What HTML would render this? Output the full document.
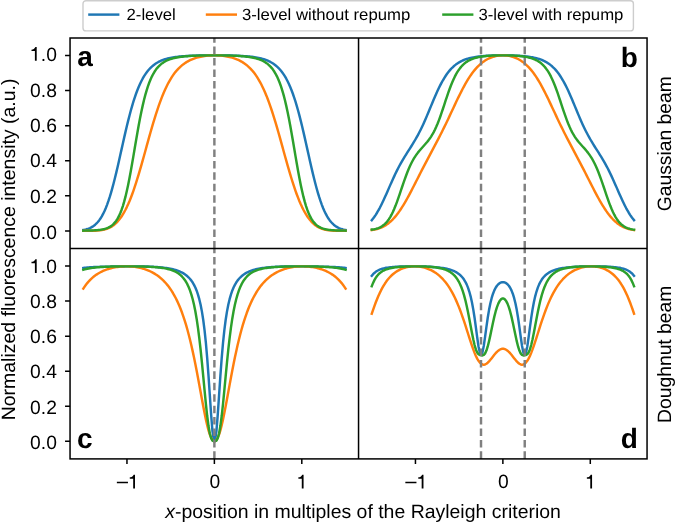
<!DOCTYPE html>
<html><head><meta charset="utf-8"><title>Figure</title>
<style>html,body{margin:0;padding:0;background:#fff;}svg{will-change:transform;text-rendering:geometricPrecision;}body{width:675px;height:522px;position:relative;overflow:hidden;font-family:"Liberation Sans",sans-serif;}</style>
</head><body>
<svg width="675" height="522" viewBox="0 0 675 522" style="position:absolute;left:0;top:0;font-family:'Liberation Sans',sans-serif">
<rect x="0" y="0" width="675" height="522" fill="#fff"/>
<path d="M83.32,229.95 L84.64,229.71 L85.96,229.41 L87.27,229.04 L88.59,228.59 L89.91,228.06 L91.23,227.42 L92.55,226.65 L93.86,225.75 L95.18,224.70 L96.50,223.47 L97.82,222.04 L99.13,220.40 L100.45,218.52 L101.77,216.38 L103.09,213.96 L104.41,211.25 L105.72,208.22 L107.04,204.87 L108.36,201.19 L109.68,197.18 L111.00,192.85 L112.31,188.20 L113.63,183.26 L114.95,178.05 L116.27,172.60 L117.59,166.97 L118.90,161.19 L120.22,155.31 L121.54,149.39 L122.86,143.47 L124.17,137.62 L125.49,131.87 L126.81,126.27 L128.13,120.87 L129.45,115.68 L130.76,110.75 L132.08,106.08 L133.40,101.68 L134.72,97.58 L136.04,93.75 L137.35,90.22 L138.67,86.95 L139.99,83.95 L141.31,81.21 L142.63,78.70 L143.94,76.42 L145.26,74.34 L146.58,72.46 L147.90,70.76 L149.21,69.23 L150.53,67.84 L151.85,66.59 L153.17,65.46 L154.49,64.45 L155.80,63.53 L157.12,62.71 L158.44,61.97 L159.76,61.31 L161.08,60.71 L162.39,60.17 L163.71,59.69 L165.03,59.25 L166.35,58.86 L167.66,58.51 L168.98,58.19 L170.30,57.91 L171.62,57.65 L172.94,57.41 L174.25,57.20 L175.57,57.01 L176.89,56.84 L178.21,56.69 L179.53,56.55 L180.84,56.42 L182.16,56.30 L183.48,56.20 L184.80,56.10 L186.12,56.02 L187.43,55.94 L188.75,55.87 L190.07,55.81 L191.39,55.75 L192.70,55.70 L194.02,55.65 L195.34,55.61 L196.66,55.57 L197.98,55.53 L199.29,55.50 L200.61,55.48 L201.93,55.45 L203.25,55.43 L204.57,55.41 L205.88,55.40 L207.20,55.38 L208.52,55.37 L209.84,55.36 L211.16,55.36 L212.47,55.35 L213.79,55.35 L215.11,55.35 L216.43,55.35 L217.74,55.36 L219.06,55.36 L220.38,55.37 L221.70,55.38 L223.02,55.40 L224.33,55.41 L225.65,55.43 L226.97,55.45 L228.29,55.48 L229.61,55.50 L230.92,55.53 L232.24,55.57 L233.56,55.61 L234.88,55.65 L236.20,55.70 L237.51,55.75 L238.83,55.81 L240.15,55.87 L241.47,55.94 L242.78,56.02 L244.10,56.10 L245.42,56.20 L246.74,56.30 L248.06,56.42 L249.37,56.55 L250.69,56.69 L252.01,56.84 L253.33,57.01 L254.65,57.20 L255.96,57.41 L257.28,57.65 L258.60,57.91 L259.92,58.19 L261.24,58.51 L262.55,58.86 L263.87,59.25 L265.19,59.69 L266.51,60.17 L267.82,60.71 L269.14,61.31 L270.46,61.97 L271.78,62.71 L273.10,63.53 L274.41,64.45 L275.73,65.46 L277.05,66.59 L278.37,67.84 L279.69,69.23 L281.00,70.76 L282.32,72.46 L283.64,74.34 L284.96,76.42 L286.27,78.70 L287.59,81.21 L288.91,83.95 L290.23,86.95 L291.55,90.22 L292.86,93.75 L294.18,97.58 L295.50,101.68 L296.82,106.08 L298.14,110.75 L299.45,115.68 L300.77,120.87 L302.09,126.27 L303.41,131.87 L304.73,137.62 L306.04,143.47 L307.36,149.39 L308.68,155.31 L310.00,161.19 L311.31,166.97 L312.63,172.60 L313.95,178.05 L315.27,183.26 L316.59,188.20 L317.90,192.85 L319.22,197.18 L320.54,201.19 L321.86,204.87 L323.18,208.22 L324.49,211.25 L325.81,213.96 L327.13,216.38 L328.45,218.52 L329.77,220.40 L331.08,222.04 L332.40,223.47 L333.72,224.70 L335.04,225.75 L336.35,226.65 L337.67,227.42 L338.99,228.06 L340.31,228.59 L341.63,229.04 L342.94,229.41 L344.26,229.71 L345.58,229.95" stroke="#1f77b4" stroke-width="2.45" fill="none" stroke-linecap="square" stroke-linejoin="round"/>
<path d="M83.32,230.85 L84.64,230.84 L85.96,230.84 L87.27,230.83 L88.59,230.82 L89.91,230.81 L91.23,230.79 L92.55,230.76 L93.86,230.72 L95.18,230.67 L96.50,230.60 L97.82,230.51 L99.13,230.39 L100.45,230.24 L101.77,230.05 L103.09,229.81 L104.41,229.52 L105.72,229.16 L107.04,228.74 L108.36,228.23 L109.68,227.63 L111.00,226.93 L112.31,226.12 L113.63,225.19 L114.95,224.13 L116.27,222.93 L117.59,221.57 L118.90,220.05 L120.22,218.36 L121.54,216.49 L122.86,214.44 L124.17,212.19 L125.49,209.75 L126.81,207.10 L128.13,204.25 L129.45,201.19 L130.76,197.92 L132.08,194.46 L133.40,190.80 L134.72,186.95 L136.04,182.93 L137.35,178.74 L138.67,174.40 L139.99,169.94 L141.31,165.37 L142.63,160.70 L143.94,155.98 L145.26,151.21 L146.58,146.43 L147.90,141.66 L149.21,136.93 L150.53,132.26 L151.85,127.66 L153.17,123.18 L154.49,118.81 L155.80,114.58 L157.12,110.51 L158.44,106.60 L159.76,102.86 L161.08,99.31 L162.39,95.93 L163.71,92.74 L165.03,89.74 L166.35,86.92 L167.66,84.28 L168.98,81.81 L170.30,79.52 L171.62,77.38 L172.94,75.40 L174.25,73.56 L175.57,71.87 L176.89,70.30 L178.21,68.86 L179.53,67.53 L180.84,66.31 L182.16,65.18 L183.48,64.15 L184.80,63.21 L186.12,62.35 L187.43,61.56 L188.75,60.84 L190.07,60.18 L191.39,59.58 L192.70,59.03 L194.02,58.54 L195.34,58.09 L196.66,57.69 L197.98,57.32 L199.29,56.99 L200.61,56.70 L201.93,56.44 L203.25,56.22 L204.57,56.02 L205.88,55.85 L207.20,55.70 L208.52,55.59 L209.84,55.49 L211.16,55.42 L212.47,55.38 L213.79,55.35 L215.11,55.35 L216.43,55.38 L217.74,55.42 L219.06,55.49 L220.38,55.59 L221.70,55.70 L223.02,55.85 L224.33,56.02 L225.65,56.22 L226.97,56.44 L228.29,56.70 L229.61,56.99 L230.92,57.32 L232.24,57.69 L233.56,58.09 L234.88,58.54 L236.20,59.03 L237.51,59.58 L238.83,60.18 L240.15,60.84 L241.47,61.56 L242.78,62.35 L244.10,63.21 L245.42,64.15 L246.74,65.18 L248.06,66.31 L249.37,67.53 L250.69,68.86 L252.01,70.30 L253.33,71.87 L254.65,73.56 L255.96,75.40 L257.28,77.38 L258.60,79.52 L259.92,81.81 L261.24,84.28 L262.55,86.92 L263.87,89.74 L265.19,92.74 L266.51,95.93 L267.82,99.31 L269.14,102.86 L270.46,106.60 L271.78,110.51 L273.10,114.58 L274.41,118.81 L275.73,123.18 L277.05,127.66 L278.37,132.26 L279.69,136.93 L281.00,141.66 L282.32,146.43 L283.64,151.21 L284.96,155.98 L286.27,160.70 L287.59,165.37 L288.91,169.94 L290.23,174.40 L291.55,178.74 L292.86,182.93 L294.18,186.95 L295.50,190.80 L296.82,194.46 L298.14,197.92 L299.45,201.19 L300.77,204.25 L302.09,207.10 L303.41,209.75 L304.73,212.19 L306.04,214.44 L307.36,216.49 L308.68,218.36 L310.00,220.05 L311.31,221.57 L312.63,222.93 L313.95,224.13 L315.27,225.19 L316.59,226.12 L317.90,226.93 L319.22,227.63 L320.54,228.23 L321.86,228.74 L323.18,229.16 L324.49,229.52 L325.81,229.81 L327.13,230.05 L328.45,230.24 L329.77,230.39 L331.08,230.51 L332.40,230.60 L333.72,230.67 L335.04,230.72 L336.35,230.76 L337.67,230.79 L338.99,230.81 L340.31,230.82 L341.63,230.83 L342.94,230.84 L344.26,230.84 L345.58,230.85" stroke="#ff7f0e" stroke-width="2.45" fill="none" stroke-linecap="square" stroke-linejoin="round"/>
<path d="M83.32,230.67 L84.64,230.65 L85.96,230.63 L87.27,230.60 L88.59,230.57 L89.91,230.54 L91.23,230.49 L92.55,230.44 L93.86,230.38 L95.18,230.30 L96.50,230.20 L97.82,230.09 L99.13,229.95 L100.45,229.78 L101.77,229.57 L103.09,229.31 L104.41,229.00 L105.72,228.63 L107.04,228.17 L108.36,227.61 L109.68,226.93 L111.00,226.10 L112.31,225.10 L113.63,223.90 L114.95,222.44 L116.27,220.71 L117.59,218.64 L118.90,216.19 L120.22,213.32 L121.54,209.96 L122.86,206.09 L124.17,201.66 L125.49,196.66 L126.81,191.09 L128.13,184.95 L129.45,178.31 L130.76,171.22 L132.08,163.78 L133.40,156.11 L134.72,148.32 L136.04,140.56 L137.35,132.95 L138.67,125.58 L139.99,118.58 L141.31,111.99 L142.63,105.87 L143.94,100.26 L145.26,95.15 L146.58,90.54 L147.90,86.40 L149.21,82.72 L150.53,79.46 L151.85,76.58 L153.17,74.04 L154.49,71.80 L155.80,69.84 L157.12,68.12 L158.44,66.62 L159.76,65.30 L161.08,64.14 L162.39,63.13 L163.71,62.23 L165.03,61.45 L166.35,60.76 L167.66,60.15 L168.98,59.62 L170.30,59.14 L171.62,58.73 L172.94,58.35 L174.25,58.02 L175.57,57.73 L176.89,57.47 L178.21,57.23 L179.53,57.03 L180.84,56.84 L182.16,56.67 L183.48,56.52 L184.80,56.39 L186.12,56.26 L187.43,56.16 L188.75,56.06 L190.07,55.97 L191.39,55.89 L192.70,55.82 L194.02,55.75 L195.34,55.70 L196.66,55.64 L197.98,55.60 L199.29,55.56 L200.61,55.52 L201.93,55.49 L203.25,55.46 L204.57,55.43 L205.88,55.41 L207.20,55.39 L208.52,55.38 L209.84,55.37 L211.16,55.36 L212.47,55.35 L213.79,55.35 L215.11,55.35 L216.43,55.35 L217.74,55.36 L219.06,55.37 L220.38,55.38 L221.70,55.39 L223.02,55.41 L224.33,55.43 L225.65,55.46 L226.97,55.49 L228.29,55.52 L229.61,55.56 L230.92,55.60 L232.24,55.64 L233.56,55.70 L234.88,55.75 L236.20,55.82 L237.51,55.89 L238.83,55.97 L240.15,56.06 L241.47,56.16 L242.78,56.26 L244.10,56.39 L245.42,56.52 L246.74,56.67 L248.06,56.84 L249.37,57.03 L250.69,57.23 L252.01,57.47 L253.33,57.73 L254.65,58.02 L255.96,58.35 L257.28,58.73 L258.60,59.14 L259.92,59.62 L261.24,60.15 L262.55,60.76 L263.87,61.45 L265.19,62.23 L266.51,63.13 L267.82,64.14 L269.14,65.30 L270.46,66.62 L271.78,68.12 L273.10,69.84 L274.41,71.80 L275.73,74.04 L277.05,76.58 L278.37,79.46 L279.69,82.72 L281.00,86.40 L282.32,90.54 L283.64,95.15 L284.96,100.26 L286.27,105.87 L287.59,111.99 L288.91,118.58 L290.23,125.58 L291.55,132.95 L292.86,140.56 L294.18,148.32 L295.50,156.11 L296.82,163.78 L298.14,171.22 L299.45,178.31 L300.77,184.95 L302.09,191.09 L303.41,196.66 L304.73,201.66 L306.04,206.09 L307.36,209.96 L308.68,213.32 L310.00,216.19 L311.31,218.64 L312.63,220.71 L313.95,222.44 L315.27,223.90 L316.59,225.10 L317.90,226.10 L319.22,226.93 L320.54,227.61 L321.86,228.17 L323.18,228.63 L324.49,229.00 L325.81,229.31 L327.13,229.57 L328.45,229.78 L329.77,229.95 L331.08,230.09 L332.40,230.20 L333.72,230.30 L335.04,230.38 L336.35,230.44 L337.67,230.49 L338.99,230.54 L340.31,230.57 L341.63,230.60 L342.94,230.63 L344.26,230.65 L345.58,230.67" stroke="#2ca02c" stroke-width="2.45" fill="none" stroke-linecap="square" stroke-linejoin="round"/>
<path d="M371.77,220.16 L373.09,218.55 L374.41,216.78 L375.72,214.83 L377.04,212.73 L378.36,210.46 L379.68,208.04 L381.00,205.47 L382.31,202.78 L383.63,199.98 L384.95,197.09 L386.27,194.14 L387.58,191.14 L388.90,188.13 L390.22,185.13 L391.54,182.15 L392.86,179.23 L394.17,176.37 L395.49,173.59 L396.81,170.90 L398.13,168.30 L399.45,165.80 L400.76,163.39 L402.08,161.07 L403.40,158.83 L404.72,156.66 L406.04,154.54 L407.35,152.45 L408.67,150.39 L409.99,148.33 L411.31,146.25 L412.62,144.14 L413.94,141.98 L415.26,139.75 L416.58,137.45 L417.90,135.04 L419.21,132.54 L420.53,129.93 L421.85,127.22 L423.17,124.40 L424.49,121.48 L425.80,118.47 L427.12,115.38 L428.44,112.25 L429.76,109.07 L431.08,105.89 L432.39,102.71 L433.71,99.57 L435.03,96.49 L436.35,93.49 L437.66,90.59 L438.98,87.81 L440.30,85.15 L441.62,82.63 L442.94,80.26 L444.25,78.04 L445.57,75.97 L446.89,74.04 L448.21,72.27 L449.53,70.64 L450.84,69.14 L452.16,67.77 L453.48,66.52 L454.80,65.38 L456.11,64.35 L457.43,63.42 L458.75,62.57 L460.07,61.81 L461.39,61.12 L462.70,60.50 L464.02,59.95 L465.34,59.44 L466.66,58.99 L467.98,58.58 L469.29,58.22 L470.61,57.89 L471.93,57.59 L473.25,57.33 L474.57,57.09 L475.88,56.88 L477.20,56.69 L478.52,56.52 L479.84,56.36 L481.15,56.22 L482.47,56.10 L483.79,55.99 L485.11,55.89 L486.43,55.80 L487.74,55.73 L489.06,55.66 L490.38,55.60 L491.70,55.55 L493.02,55.50 L494.33,55.46 L495.65,55.43 L496.97,55.40 L498.29,55.38 L499.61,55.37 L500.92,55.36 L502.24,55.35 L503.56,55.35 L504.88,55.36 L506.19,55.37 L507.51,55.38 L508.83,55.40 L510.15,55.43 L511.47,55.46 L512.78,55.50 L514.10,55.55 L515.42,55.60 L516.74,55.66 L518.06,55.73 L519.37,55.80 L520.69,55.89 L522.01,55.99 L523.33,56.10 L524.65,56.22 L525.96,56.36 L527.28,56.52 L528.60,56.69 L529.92,56.88 L531.23,57.09 L532.55,57.33 L533.87,57.59 L535.19,57.89 L536.51,58.22 L537.82,58.58 L539.14,58.99 L540.46,59.44 L541.78,59.95 L543.10,60.50 L544.41,61.12 L545.73,61.81 L547.05,62.57 L548.37,63.42 L549.69,64.35 L551.00,65.38 L552.32,66.52 L553.64,67.77 L554.96,69.14 L556.27,70.64 L557.59,72.27 L558.91,74.04 L560.23,75.97 L561.55,78.04 L562.86,80.26 L564.18,82.63 L565.50,85.15 L566.82,87.81 L568.14,90.59 L569.45,93.49 L570.77,96.49 L572.09,99.57 L573.41,102.71 L574.72,105.89 L576.04,109.07 L577.36,112.25 L578.68,115.38 L580.00,118.47 L581.31,121.48 L582.63,124.40 L583.95,127.22 L585.27,129.93 L586.59,132.54 L587.90,135.04 L589.22,137.45 L590.54,139.75 L591.86,141.98 L593.18,144.14 L594.49,146.25 L595.81,148.33 L597.13,150.39 L598.45,152.45 L599.76,154.54 L601.08,156.66 L602.40,158.83 L603.72,161.07 L605.04,163.39 L606.35,165.80 L607.67,168.30 L608.99,170.90 L610.31,173.59 L611.63,176.37 L612.94,179.23 L614.26,182.15 L615.58,185.13 L616.90,188.13 L618.22,191.14 L619.53,194.14 L620.85,197.09 L622.17,199.98 L623.49,202.78 L624.80,205.47 L626.12,208.04 L627.44,210.46 L628.76,212.73 L630.08,214.83 L631.39,216.78 L632.71,218.55 L634.03,220.16" stroke="#1f77b4" stroke-width="2.45" fill="none" stroke-linecap="square" stroke-linejoin="round"/>
<path d="M371.77,230.07 L373.09,229.87 L374.41,229.62 L375.72,229.34 L377.04,229.00 L378.36,228.62 L379.68,228.17 L381.00,227.65 L382.31,227.07 L383.63,226.41 L384.95,225.67 L386.27,224.84 L387.58,223.93 L388.90,222.92 L390.22,221.81 L391.54,220.60 L392.86,219.29 L394.17,217.88 L395.49,216.36 L396.81,214.73 L398.13,213.00 L399.45,211.16 L400.76,209.23 L402.08,207.20 L403.40,205.08 L404.72,202.87 L406.04,200.59 L407.35,198.23 L408.67,195.82 L409.99,193.35 L411.31,190.83 L412.62,188.29 L413.94,185.71 L415.26,183.12 L416.58,180.53 L417.90,177.93 L419.21,175.33 L420.53,172.75 L421.85,170.18 L423.17,167.63 L424.49,165.09 L425.80,162.57 L427.12,160.07 L428.44,157.58 L429.76,155.10 L431.08,152.63 L432.39,150.15 L433.71,147.68 L435.03,145.19 L436.35,142.69 L437.66,140.17 L438.98,137.62 L440.30,135.05 L441.62,132.44 L442.94,129.80 L444.25,127.13 L445.57,124.42 L446.89,121.68 L448.21,118.92 L449.53,116.13 L450.84,113.32 L452.16,110.51 L453.48,107.69 L454.80,104.89 L456.11,102.10 L457.43,99.34 L458.75,96.62 L460.07,93.95 L461.39,91.34 L462.70,88.80 L464.02,86.34 L465.34,83.96 L466.66,81.67 L467.98,79.49 L469.29,77.41 L470.61,75.43 L471.93,73.56 L473.25,71.79 L474.57,70.14 L475.88,68.59 L477.20,67.15 L478.52,65.81 L479.84,64.57 L481.15,63.42 L482.47,62.37 L483.79,61.41 L485.11,60.53 L486.43,59.74 L487.74,59.02 L489.06,58.37 L490.38,57.80 L491.70,57.29 L493.02,56.85 L494.33,56.47 L495.65,56.14 L496.97,55.88 L498.29,55.67 L499.61,55.51 L500.92,55.41 L502.24,55.36 L503.56,55.36 L504.88,55.41 L506.19,55.51 L507.51,55.67 L508.83,55.88 L510.15,56.14 L511.47,56.47 L512.78,56.85 L514.10,57.29 L515.42,57.80 L516.74,58.37 L518.06,59.02 L519.37,59.74 L520.69,60.53 L522.01,61.41 L523.33,62.37 L524.65,63.42 L525.96,64.57 L527.28,65.81 L528.60,67.15 L529.92,68.59 L531.23,70.14 L532.55,71.79 L533.87,73.56 L535.19,75.43 L536.51,77.41 L537.82,79.49 L539.14,81.67 L540.46,83.96 L541.78,86.34 L543.10,88.80 L544.41,91.34 L545.73,93.95 L547.05,96.62 L548.37,99.34 L549.69,102.10 L551.00,104.89 L552.32,107.69 L553.64,110.51 L554.96,113.32 L556.27,116.13 L557.59,118.92 L558.91,121.68 L560.23,124.42 L561.55,127.13 L562.86,129.80 L564.18,132.44 L565.50,135.05 L566.82,137.62 L568.14,140.17 L569.45,142.69 L570.77,145.19 L572.09,147.68 L573.41,150.15 L574.72,152.63 L576.04,155.10 L577.36,157.58 L578.68,160.07 L580.00,162.57 L581.31,165.09 L582.63,167.63 L583.95,170.18 L585.27,172.75 L586.59,175.33 L587.90,177.93 L589.22,180.53 L590.54,183.12 L591.86,185.71 L593.18,188.29 L594.49,190.83 L595.81,193.35 L597.13,195.82 L598.45,198.23 L599.76,200.59 L601.08,202.87 L602.40,205.08 L603.72,207.20 L605.04,209.23 L606.35,211.16 L607.67,213.00 L608.99,214.73 L610.31,216.36 L611.63,217.88 L612.94,219.29 L614.26,220.60 L615.58,221.81 L616.90,222.92 L618.22,223.93 L619.53,224.84 L620.85,225.67 L622.17,226.41 L623.49,227.07 L624.80,227.65 L626.12,228.17 L627.44,228.62 L628.76,229.00 L630.08,229.34 L631.39,229.62 L632.71,229.87 L634.03,230.07" stroke="#ff7f0e" stroke-width="2.45" fill="none" stroke-linecap="square" stroke-linejoin="round"/>
<path d="M371.77,229.57 L373.09,229.41 L374.41,229.19 L375.72,228.90 L377.04,228.54 L378.36,228.09 L379.68,227.54 L381.00,226.87 L382.31,226.07 L383.63,225.11 L384.95,223.96 L386.27,222.61 L387.58,221.04 L388.90,219.20 L390.22,217.10 L391.54,214.71 L392.86,212.03 L394.17,209.06 L395.49,205.82 L396.81,202.34 L398.13,198.67 L399.45,194.85 L400.76,190.94 L402.08,187.01 L403.40,183.13 L404.72,179.34 L406.04,175.71 L407.35,172.26 L408.67,169.03 L409.99,166.03 L411.31,163.27 L412.62,160.74 L413.94,158.44 L415.26,156.33 L416.58,154.40 L417.90,152.63 L419.21,150.98 L420.53,149.43 L421.85,147.94 L423.17,146.49 L424.49,145.04 L425.80,143.56 L427.12,142.01 L428.44,140.36 L429.76,138.57 L431.08,136.62 L432.39,134.47 L433.71,132.09 L435.03,129.47 L436.35,126.59 L437.66,123.46 L438.98,120.07 L440.30,116.47 L441.62,112.68 L442.94,108.76 L444.25,104.76 L445.57,100.74 L446.89,96.78 L448.21,92.92 L449.53,89.22 L450.84,85.72 L452.16,82.45 L453.48,79.43 L454.80,76.67 L456.11,74.16 L457.43,71.91 L458.75,69.90 L460.07,68.11 L461.39,66.52 L462.70,65.12 L464.02,63.89 L465.34,62.81 L466.66,61.86 L467.98,61.03 L469.29,60.30 L470.61,59.66 L471.93,59.10 L473.25,58.61 L474.57,58.17 L475.88,57.80 L477.20,57.46 L478.52,57.17 L479.84,56.91 L481.15,56.69 L482.47,56.49 L483.79,56.31 L485.11,56.16 L486.43,56.02 L487.74,55.90 L489.06,55.80 L490.38,55.71 L491.70,55.63 L493.02,55.57 L494.33,55.51 L495.65,55.46 L496.97,55.43 L498.29,55.40 L499.61,55.37 L500.92,55.36 L502.24,55.35 L503.56,55.35 L504.88,55.36 L506.19,55.37 L507.51,55.40 L508.83,55.43 L510.15,55.46 L511.47,55.51 L512.78,55.57 L514.10,55.63 L515.42,55.71 L516.74,55.80 L518.06,55.90 L519.37,56.02 L520.69,56.16 L522.01,56.31 L523.33,56.49 L524.65,56.69 L525.96,56.91 L527.28,57.17 L528.60,57.46 L529.92,57.80 L531.23,58.17 L532.55,58.61 L533.87,59.10 L535.19,59.66 L536.51,60.30 L537.82,61.03 L539.14,61.86 L540.46,62.81 L541.78,63.89 L543.10,65.12 L544.41,66.52 L545.73,68.11 L547.05,69.90 L548.37,71.91 L549.69,74.16 L551.00,76.67 L552.32,79.43 L553.64,82.45 L554.96,85.72 L556.27,89.22 L557.59,92.92 L558.91,96.78 L560.23,100.74 L561.55,104.76 L562.86,108.76 L564.18,112.68 L565.50,116.47 L566.82,120.07 L568.14,123.46 L569.45,126.59 L570.77,129.47 L572.09,132.09 L573.41,134.47 L574.72,136.62 L576.04,138.57 L577.36,140.36 L578.68,142.01 L580.00,143.56 L581.31,145.04 L582.63,146.49 L583.95,147.94 L585.27,149.43 L586.59,150.98 L587.90,152.63 L589.22,154.40 L590.54,156.33 L591.86,158.44 L593.18,160.74 L594.49,163.27 L595.81,166.03 L597.13,169.03 L598.45,172.26 L599.76,175.71 L601.08,179.34 L602.40,183.13 L603.72,187.01 L605.04,190.94 L606.35,194.85 L607.67,198.67 L608.99,202.34 L610.31,205.82 L611.63,209.06 L612.94,212.03 L614.26,214.71 L615.58,217.10 L616.90,219.20 L618.22,221.04 L619.53,222.61 L620.85,223.96 L622.17,225.11 L623.49,226.07 L624.80,226.87 L626.12,227.54 L627.44,228.09 L628.76,228.54 L630.08,228.90 L631.39,229.19 L632.71,229.41 L634.03,229.57" stroke="#2ca02c" stroke-width="2.45" fill="none" stroke-linecap="square" stroke-linejoin="round"/>
<path d="M83.32,268.00 L84.64,267.82 L85.96,267.66 L87.27,267.52 L88.59,267.40 L89.91,267.30 L91.23,267.21 L92.55,267.13 L93.86,267.06 L95.18,267.00 L96.50,266.94 L97.82,266.89 L99.13,266.85 L100.45,266.81 L101.77,266.77 L103.09,266.74 L104.41,266.71 L105.72,266.68 L107.04,266.65 L108.36,266.63 L109.68,266.61 L111.00,266.58 L112.31,266.56 L113.63,266.54 L114.95,266.52 L116.27,266.50 L117.59,266.49 L118.90,266.47 L120.22,266.45 L121.54,266.44 L122.86,266.42 L124.17,266.41 L125.49,266.40 L126.81,266.39 L128.13,266.38 L129.45,266.37 L130.76,266.36 L132.08,266.36 L133.40,266.36 L134.72,266.36 L136.04,266.37 L137.35,266.37 L138.67,266.38 L139.99,266.40 L141.31,266.41 L142.63,266.44 L143.94,266.46 L145.26,266.49 L146.58,266.53 L147.90,266.57 L149.21,266.62 L150.53,266.67 L151.85,266.73 L153.17,266.80 L154.49,266.87 L155.80,266.96 L157.12,267.05 L158.44,267.16 L159.76,267.27 L161.08,267.40 L162.39,267.54 L163.71,267.69 L165.03,267.86 L166.35,268.04 L167.66,268.25 L168.98,268.48 L170.30,268.73 L171.62,269.00 L172.94,269.31 L174.25,269.65 L175.57,270.02 L176.89,270.44 L178.21,270.91 L179.53,271.43 L180.84,272.01 L182.16,272.67 L183.48,273.41 L184.80,274.24 L186.12,275.20 L187.43,276.28 L188.75,277.53 L190.07,278.96 L191.39,280.62 L192.70,282.56 L194.02,284.84 L195.34,287.53 L196.66,290.72 L197.98,294.55 L199.29,299.17 L200.61,304.77 L201.93,311.63 L203.25,320.03 L204.57,330.36 L205.88,342.98 L207.20,358.18 L208.52,375.92 L209.84,395.49 L211.16,414.96 L212.47,431.09 L213.79,440.17 L215.11,440.17 L216.43,431.09 L217.74,414.96 L219.06,395.49 L220.38,375.92 L221.70,358.18 L223.02,342.98 L224.33,330.36 L225.65,320.03 L226.97,311.63 L228.29,304.77 L229.61,299.17 L230.92,294.55 L232.24,290.72 L233.56,287.53 L234.88,284.84 L236.20,282.56 L237.51,280.62 L238.83,278.96 L240.15,277.53 L241.47,276.28 L242.78,275.20 L244.10,274.24 L245.42,273.41 L246.74,272.67 L248.06,272.01 L249.37,271.43 L250.69,270.91 L252.01,270.44 L253.33,270.02 L254.65,269.65 L255.96,269.31 L257.28,269.00 L258.60,268.73 L259.92,268.48 L261.24,268.25 L262.55,268.04 L263.87,267.86 L265.19,267.69 L266.51,267.54 L267.82,267.40 L269.14,267.27 L270.46,267.16 L271.78,267.05 L273.10,266.96 L274.41,266.87 L275.73,266.80 L277.05,266.73 L278.37,266.67 L279.69,266.62 L281.00,266.57 L282.32,266.53 L283.64,266.49 L284.96,266.46 L286.27,266.44 L287.59,266.41 L288.91,266.40 L290.23,266.38 L291.55,266.37 L292.86,266.37 L294.18,266.36 L295.50,266.36 L296.82,266.36 L298.14,266.36 L299.45,266.37 L300.77,266.38 L302.09,266.39 L303.41,266.40 L304.73,266.41 L306.04,266.42 L307.36,266.44 L308.68,266.45 L310.00,266.47 L311.31,266.49 L312.63,266.50 L313.95,266.52 L315.27,266.54 L316.59,266.56 L317.90,266.58 L319.22,266.61 L320.54,266.63 L321.86,266.65 L323.18,266.68 L324.49,266.71 L325.81,266.74 L327.13,266.77 L328.45,266.81 L329.77,266.85 L331.08,266.89 L332.40,266.94 L333.72,267.00 L335.04,267.06 L336.35,267.13 L337.67,267.21 L338.99,267.30 L340.31,267.40 L341.63,267.52 L342.94,267.66 L344.26,267.82 L345.58,268.00" stroke="#1f77b4" stroke-width="2.45" fill="none" stroke-linecap="square" stroke-linejoin="round"/>
<path d="M83.32,288.67 L84.64,286.65 L85.96,284.81 L87.27,283.12 L88.59,281.57 L89.91,280.15 L91.23,278.85 L92.55,277.65 L93.86,276.55 L95.18,275.54 L96.50,274.61 L97.82,273.76 L99.13,272.97 L100.45,272.25 L101.77,271.58 L103.09,270.97 L104.41,270.41 L105.72,269.89 L107.04,269.42 L108.36,268.99 L109.68,268.60 L111.00,268.24 L112.31,267.92 L113.63,267.63 L114.95,267.38 L116.27,267.15 L117.59,266.96 L118.90,266.79 L120.22,266.65 L121.54,266.54 L122.86,266.46 L124.17,266.40 L125.49,266.37 L126.81,266.36 L128.13,266.38 L129.45,266.43 L130.76,266.51 L132.08,266.61 L133.40,266.74 L134.72,266.90 L136.04,267.09 L137.35,267.32 L138.67,267.57 L139.99,267.85 L141.31,268.17 L142.63,268.52 L143.94,268.92 L145.26,269.34 L146.58,269.81 L147.90,270.33 L149.21,270.88 L150.53,271.49 L151.85,272.15 L153.17,272.85 L154.49,273.62 L155.80,274.45 L157.12,275.34 L158.44,276.29 L159.76,277.33 L161.08,278.44 L162.39,279.63 L163.71,280.91 L165.03,282.29 L166.35,283.77 L167.66,285.36 L168.98,287.08 L170.30,288.92 L171.62,290.89 L172.94,293.02 L174.25,295.30 L175.57,297.75 L176.89,300.39 L178.21,303.23 L179.53,306.27 L180.84,309.54 L182.16,313.05 L183.48,316.82 L184.80,320.85 L186.12,325.17 L187.43,329.79 L188.75,334.71 L190.07,339.95 L191.39,345.51 L192.70,351.39 L194.02,357.58 L195.34,364.06 L196.66,370.80 L197.98,377.75 L199.29,384.87 L200.61,392.06 L201.93,399.24 L203.25,406.29 L204.57,413.08 L205.88,419.46 L207.20,425.28 L208.52,430.38 L209.84,434.63 L211.16,437.90 L212.47,440.09 L213.79,441.17 L215.11,441.17 L216.43,440.09 L217.74,437.90 L219.06,434.63 L220.38,430.38 L221.70,425.28 L223.02,419.46 L224.33,413.08 L225.65,406.29 L226.97,399.24 L228.29,392.06 L229.61,384.87 L230.92,377.75 L232.24,370.80 L233.56,364.06 L234.88,357.58 L236.20,351.39 L237.51,345.51 L238.83,339.95 L240.15,334.71 L241.47,329.79 L242.78,325.17 L244.10,320.85 L245.42,316.82 L246.74,313.05 L248.06,309.54 L249.37,306.27 L250.69,303.23 L252.01,300.39 L253.33,297.75 L254.65,295.30 L255.96,293.02 L257.28,290.89 L258.60,288.92 L259.92,287.08 L261.24,285.36 L262.55,283.77 L263.87,282.29 L265.19,280.91 L266.51,279.63 L267.82,278.44 L269.14,277.33 L270.46,276.29 L271.78,275.34 L273.10,274.45 L274.41,273.62 L275.73,272.85 L277.05,272.15 L278.37,271.49 L279.69,270.88 L281.00,270.33 L282.32,269.81 L283.64,269.34 L284.96,268.92 L286.27,268.52 L287.59,268.17 L288.91,267.85 L290.23,267.57 L291.55,267.32 L292.86,267.09 L294.18,266.90 L295.50,266.74 L296.82,266.61 L298.14,266.51 L299.45,266.43 L300.77,266.38 L302.09,266.36 L303.41,266.37 L304.73,266.40 L306.04,266.46 L307.36,266.54 L308.68,266.65 L310.00,266.79 L311.31,266.96 L312.63,267.15 L313.95,267.38 L315.27,267.63 L316.59,267.92 L317.90,268.24 L319.22,268.60 L320.54,268.99 L321.86,269.42 L323.18,269.89 L324.49,270.41 L325.81,270.97 L327.13,271.58 L328.45,272.25 L329.77,272.97 L331.08,273.76 L332.40,274.61 L333.72,275.54 L335.04,276.55 L336.35,277.65 L337.67,278.85 L338.99,280.15 L340.31,281.57 L341.63,283.12 L342.94,284.81 L344.26,286.65 L345.58,288.67" stroke="#ff7f0e" stroke-width="2.45" fill="none" stroke-linecap="square" stroke-linejoin="round"/>
<path d="M83.32,269.75 L84.64,269.36 L85.96,269.03 L87.27,268.73 L88.59,268.47 L89.91,268.24 L91.23,268.03 L92.55,267.85 L93.86,267.68 L95.18,267.53 L96.50,267.40 L97.82,267.28 L99.13,267.18 L100.45,267.08 L101.77,266.99 L103.09,266.92 L104.41,266.85 L105.72,266.78 L107.04,266.72 L108.36,266.67 L109.68,266.63 L111.00,266.58 L112.31,266.55 L113.63,266.51 L114.95,266.49 L116.27,266.46 L117.59,266.44 L118.90,266.42 L120.22,266.40 L121.54,266.39 L122.86,266.38 L124.17,266.37 L125.49,266.36 L126.81,266.36 L128.13,266.36 L129.45,266.36 L130.76,266.37 L132.08,266.37 L133.40,266.38 L134.72,266.40 L136.04,266.41 L137.35,266.43 L138.67,266.46 L139.99,266.48 L141.31,266.51 L142.63,266.54 L143.94,266.58 L145.26,266.63 L146.58,266.67 L147.90,266.73 L149.21,266.79 L150.53,266.86 L151.85,266.93 L153.17,267.01 L154.49,267.11 L155.80,267.21 L157.12,267.33 L158.44,267.46 L159.76,267.60 L161.08,267.77 L162.39,267.95 L163.71,268.16 L165.03,268.39 L166.35,268.65 L167.66,268.94 L168.98,269.27 L170.30,269.65 L171.62,270.08 L172.94,270.56 L174.25,271.12 L175.57,271.75 L176.89,272.48 L178.21,273.31 L179.53,274.28 L180.84,275.39 L182.16,276.69 L183.48,278.19 L184.80,279.95 L186.12,282.00 L187.43,284.41 L188.75,287.25 L190.07,290.60 L191.39,294.55 L192.70,299.22 L194.02,304.75 L195.34,311.27 L196.66,318.92 L197.98,327.84 L199.29,338.11 L200.61,349.74 L201.93,362.57 L203.25,376.28 L204.57,390.29 L205.88,403.83 L207.20,416.02 L208.52,426.07 L209.84,433.50 L211.16,438.21 L212.47,440.56 L213.79,441.27 L215.11,441.27 L216.43,440.56 L217.74,438.21 L219.06,433.50 L220.38,426.07 L221.70,416.02 L223.02,403.83 L224.33,390.29 L225.65,376.28 L226.97,362.57 L228.29,349.74 L229.61,338.11 L230.92,327.84 L232.24,318.92 L233.56,311.27 L234.88,304.75 L236.20,299.22 L237.51,294.55 L238.83,290.60 L240.15,287.25 L241.47,284.41 L242.78,282.00 L244.10,279.95 L245.42,278.19 L246.74,276.69 L248.06,275.39 L249.37,274.28 L250.69,273.31 L252.01,272.48 L253.33,271.75 L254.65,271.12 L255.96,270.56 L257.28,270.08 L258.60,269.65 L259.92,269.27 L261.24,268.94 L262.55,268.65 L263.87,268.39 L265.19,268.16 L266.51,267.95 L267.82,267.77 L269.14,267.60 L270.46,267.46 L271.78,267.33 L273.10,267.21 L274.41,267.11 L275.73,267.01 L277.05,266.93 L278.37,266.86 L279.69,266.79 L281.00,266.73 L282.32,266.67 L283.64,266.63 L284.96,266.58 L286.27,266.54 L287.59,266.51 L288.91,266.48 L290.23,266.46 L291.55,266.43 L292.86,266.41 L294.18,266.40 L295.50,266.38 L296.82,266.37 L298.14,266.37 L299.45,266.36 L300.77,266.36 L302.09,266.36 L303.41,266.36 L304.73,266.37 L306.04,266.38 L307.36,266.39 L308.68,266.40 L310.00,266.42 L311.31,266.44 L312.63,266.46 L313.95,266.49 L315.27,266.51 L316.59,266.55 L317.90,266.58 L319.22,266.63 L320.54,266.67 L321.86,266.72 L323.18,266.78 L324.49,266.85 L325.81,266.92 L327.13,266.99 L328.45,267.08 L329.77,267.18 L331.08,267.28 L332.40,267.40 L333.72,267.53 L335.04,267.68 L336.35,267.85 L337.67,268.03 L338.99,268.24 L340.31,268.47 L341.63,268.73 L342.94,269.03 L344.26,269.36 L345.58,269.75" stroke="#2ca02c" stroke-width="2.45" fill="none" stroke-linecap="square" stroke-linejoin="round"/>
<path d="M371.77,275.86 L373.09,274.24 L374.41,272.93 L375.72,271.85 L377.04,270.97 L378.36,270.25 L379.68,269.65 L381.00,269.15 L382.31,268.72 L383.63,268.37 L384.95,268.07 L386.27,267.81 L387.58,267.59 L388.90,267.40 L390.22,267.24 L391.54,267.10 L392.86,266.98 L394.17,266.88 L395.49,266.79 L396.81,266.71 L398.13,266.64 L399.45,266.58 L400.76,266.54 L402.08,266.49 L403.40,266.46 L404.72,266.43 L406.04,266.41 L407.35,266.39 L408.67,266.37 L409.99,266.37 L411.31,266.36 L412.62,266.36 L413.94,266.36 L415.26,266.37 L416.58,266.38 L417.90,266.40 L419.21,266.42 L420.53,266.44 L421.85,266.47 L423.17,266.51 L424.49,266.55 L425.80,266.59 L427.12,266.64 L428.44,266.70 L429.76,266.77 L431.08,266.84 L432.39,266.92 L433.71,267.02 L435.03,267.12 L436.35,267.23 L437.66,267.36 L438.98,267.50 L440.30,267.66 L441.62,267.84 L442.94,268.04 L444.25,268.26 L445.57,268.51 L446.89,268.79 L448.21,269.11 L449.53,269.47 L450.84,269.87 L452.16,270.33 L453.48,270.86 L454.80,271.46 L456.11,272.16 L457.43,272.96 L458.75,273.89 L460.07,274.98 L461.39,276.26 L462.70,277.78 L464.02,279.59 L465.34,281.77 L466.66,284.40 L467.98,287.61 L469.29,291.52 L470.61,296.33 L471.93,302.22 L473.25,309.35 L474.57,317.81 L475.88,327.39 L477.20,337.42 L478.52,346.53 L479.84,352.87 L481.15,354.92 L482.47,352.38 L483.79,345.73 L485.11,336.62 L486.43,326.88 L487.74,317.76 L489.06,309.85 L490.38,303.27 L491.70,297.95 L493.02,293.71 L494.33,290.36 L495.65,287.76 L496.97,285.75 L498.29,284.26 L499.61,283.20 L500.92,282.51 L502.24,282.18 L503.56,282.18 L504.88,282.51 L506.19,283.20 L507.51,284.26 L508.83,285.75 L510.15,287.76 L511.47,290.36 L512.78,293.71 L514.10,297.95 L515.42,303.27 L516.74,309.85 L518.06,317.76 L519.37,326.88 L520.69,336.62 L522.01,345.73 L523.33,352.38 L524.65,354.92 L525.96,352.87 L527.28,346.53 L528.60,337.42 L529.92,327.39 L531.23,317.81 L532.55,309.35 L533.87,302.22 L535.19,296.33 L536.51,291.52 L537.82,287.61 L539.14,284.40 L540.46,281.77 L541.78,279.59 L543.10,277.78 L544.41,276.26 L545.73,274.98 L547.05,273.89 L548.37,272.96 L549.69,272.16 L551.00,271.46 L552.32,270.86 L553.64,270.33 L554.96,269.87 L556.27,269.47 L557.59,269.11 L558.91,268.79 L560.23,268.51 L561.55,268.26 L562.86,268.04 L564.18,267.84 L565.50,267.66 L566.82,267.50 L568.14,267.36 L569.45,267.23 L570.77,267.12 L572.09,267.02 L573.41,266.92 L574.72,266.84 L576.04,266.77 L577.36,266.70 L578.68,266.64 L580.00,266.59 L581.31,266.55 L582.63,266.51 L583.95,266.47 L585.27,266.44 L586.59,266.42 L587.90,266.40 L589.22,266.38 L590.54,266.37 L591.86,266.36 L593.18,266.36 L594.49,266.36 L595.81,266.37 L597.13,266.37 L598.45,266.39 L599.76,266.41 L601.08,266.43 L602.40,266.46 L603.72,266.49 L605.04,266.54 L606.35,266.58 L607.67,266.64 L608.99,266.71 L610.31,266.79 L611.63,266.88 L612.94,266.98 L614.26,267.10 L615.58,267.24 L616.90,267.40 L618.22,267.59 L619.53,267.81 L620.85,268.07 L622.17,268.37 L623.49,268.72 L624.80,269.15 L626.12,269.65 L627.44,270.25 L628.76,270.97 L630.08,271.85 L631.39,272.93 L632.71,274.24 L634.03,275.86" stroke="#1f77b4" stroke-width="2.45" fill="none" stroke-linecap="square" stroke-linejoin="round"/>
<path d="M371.77,313.63 L373.09,309.78 L374.41,306.08 L375.72,302.55 L377.04,299.21 L378.36,296.07 L379.68,293.15 L381.00,290.44 L382.31,287.94 L383.63,285.64 L384.95,283.53 L386.27,281.60 L387.58,279.84 L388.90,278.24 L390.22,276.79 L391.54,275.47 L392.86,274.27 L394.17,273.19 L395.49,272.22 L396.81,271.34 L398.13,270.56 L399.45,269.85 L400.76,269.23 L402.08,268.68 L403.40,268.19 L404.72,267.77 L406.04,267.41 L407.35,267.11 L408.67,266.86 L409.99,266.66 L411.31,266.51 L412.62,266.42 L413.94,266.37 L415.26,266.37 L416.58,266.41 L417.90,266.50 L419.21,266.64 L420.53,266.83 L421.85,267.06 L423.17,267.35 L424.49,267.68 L425.80,268.07 L427.12,268.51 L428.44,269.01 L429.76,269.57 L431.08,270.19 L432.39,270.87 L433.71,271.63 L435.03,272.45 L436.35,273.36 L437.66,274.34 L438.98,275.41 L440.30,276.58 L441.62,277.84 L442.94,279.21 L444.25,280.69 L445.57,282.30 L446.89,284.02 L448.21,285.89 L449.53,287.90 L450.84,290.06 L452.16,292.37 L453.48,294.86 L454.80,297.53 L456.11,300.37 L457.43,303.40 L458.75,306.61 L460.07,310.01 L461.39,313.58 L462.70,317.33 L464.02,321.22 L465.34,325.23 L466.66,329.34 L467.98,333.50 L469.29,337.64 L470.61,341.73 L471.93,345.67 L473.25,349.41 L474.57,352.86 L475.88,355.96 L477.20,358.63 L478.52,360.82 L479.84,362.52 L481.15,363.71 L482.47,364.44 L483.79,364.67 L485.11,364.43 L486.43,363.75 L487.74,362.70 L489.06,361.36 L490.38,359.81 L491.70,358.14 L493.02,356.43 L494.33,354.76 L495.65,353.20 L496.97,351.81 L498.29,350.64 L499.61,349.73 L500.92,349.10 L502.24,348.79 L503.56,348.79 L504.88,349.10 L506.19,349.73 L507.51,350.64 L508.83,351.81 L510.15,353.20 L511.47,354.76 L512.78,356.43 L514.10,358.14 L515.42,359.81 L516.74,361.36 L518.06,362.70 L519.37,363.75 L520.69,364.43 L522.01,364.67 L523.33,364.44 L524.65,363.71 L525.96,362.52 L527.28,360.82 L528.60,358.63 L529.92,355.96 L531.23,352.86 L532.55,349.41 L533.87,345.67 L535.19,341.73 L536.51,337.64 L537.82,333.50 L539.14,329.34 L540.46,325.23 L541.78,321.22 L543.10,317.33 L544.41,313.58 L545.73,310.01 L547.05,306.61 L548.37,303.40 L549.69,300.37 L551.00,297.53 L552.32,294.86 L553.64,292.37 L554.96,290.06 L556.27,287.90 L557.59,285.89 L558.91,284.02 L560.23,282.30 L561.55,280.69 L562.86,279.21 L564.18,277.84 L565.50,276.58 L566.82,275.41 L568.14,274.34 L569.45,273.36 L570.77,272.45 L572.09,271.63 L573.41,270.87 L574.72,270.19 L576.04,269.57 L577.36,269.01 L578.68,268.51 L580.00,268.07 L581.31,267.68 L582.63,267.35 L583.95,267.06 L585.27,266.83 L586.59,266.64 L587.90,266.50 L589.22,266.41 L590.54,266.37 L591.86,266.37 L593.18,266.42 L594.49,266.51 L595.81,266.66 L597.13,266.86 L598.45,267.11 L599.76,267.41 L601.08,267.77 L602.40,268.19 L603.72,268.68 L605.04,269.23 L606.35,269.85 L607.67,270.56 L608.99,271.34 L610.31,272.22 L611.63,273.19 L612.94,274.27 L614.26,275.47 L615.58,276.79 L616.90,278.24 L618.22,279.84 L619.53,281.60 L620.85,283.53 L622.17,285.64 L623.49,287.94 L624.80,290.44 L626.12,293.15 L627.44,296.07 L628.76,299.21 L630.08,302.55 L631.39,306.08 L632.71,309.78 L634.03,313.63" stroke="#ff7f0e" stroke-width="2.45" fill="none" stroke-linecap="square" stroke-linejoin="round"/>
<path d="M371.77,286.28 L373.09,282.92 L374.41,280.15 L375.72,277.88 L377.04,276.01 L378.36,274.47 L379.68,273.20 L381.00,272.15 L382.31,271.28 L383.63,270.55 L384.95,269.93 L386.27,269.41 L387.58,268.97 L388.90,268.60 L390.22,268.27 L391.54,267.99 L392.86,267.75 L394.17,267.54 L395.49,267.36 L396.81,267.20 L398.13,267.07 L399.45,266.95 L400.76,266.84 L402.08,266.75 L403.40,266.67 L404.72,266.60 L406.04,266.54 L407.35,266.49 L408.67,266.45 L409.99,266.42 L411.31,266.40 L412.62,266.38 L413.94,266.37 L415.26,266.36 L416.58,266.36 L417.90,266.37 L419.21,266.39 L420.53,266.41 L421.85,266.44 L423.17,266.48 L424.49,266.52 L425.80,266.58 L427.12,266.64 L428.44,266.72 L429.76,266.81 L431.08,266.91 L432.39,267.03 L433.71,267.17 L435.03,267.32 L436.35,267.50 L437.66,267.70 L438.98,267.93 L440.30,268.20 L441.62,268.50 L442.94,268.85 L444.25,269.25 L445.57,269.71 L446.89,270.24 L448.21,270.86 L449.53,271.58 L450.84,272.42 L452.16,273.40 L453.48,274.55 L454.80,275.90 L456.11,277.49 L457.43,279.36 L458.75,281.57 L460.07,284.19 L461.39,287.28 L462.70,290.91 L464.02,295.15 L465.34,300.06 L466.66,305.66 L467.98,311.92 L469.29,318.70 L470.61,325.78 L471.93,332.80 L473.25,339.34 L474.57,344.98 L475.88,349.39 L477.20,352.44 L478.52,354.24 L479.84,355.06 L481.15,355.35 L482.47,355.43 L483.79,354.90 L485.11,353.36 L486.43,350.55 L487.74,346.43 L489.06,341.16 L490.38,335.12 L491.70,328.74 L493.02,322.45 L494.33,316.61 L495.65,311.46 L496.97,307.13 L498.29,303.67 L499.61,301.10 L500.92,299.40 L502.24,298.56 L503.56,298.56 L504.88,299.40 L506.19,301.10 L507.51,303.67 L508.83,307.13 L510.15,311.46 L511.47,316.61 L512.78,322.45 L514.10,328.74 L515.42,335.12 L516.74,341.16 L518.06,346.43 L519.37,350.55 L520.69,353.36 L522.01,354.90 L523.33,355.43 L524.65,355.35 L525.96,355.06 L527.28,354.24 L528.60,352.44 L529.92,349.39 L531.23,344.98 L532.55,339.34 L533.87,332.80 L535.19,325.78 L536.51,318.70 L537.82,311.92 L539.14,305.66 L540.46,300.06 L541.78,295.15 L543.10,290.91 L544.41,287.28 L545.73,284.19 L547.05,281.57 L548.37,279.36 L549.69,277.49 L551.00,275.90 L552.32,274.55 L553.64,273.40 L554.96,272.42 L556.27,271.58 L557.59,270.86 L558.91,270.24 L560.23,269.71 L561.55,269.25 L562.86,268.85 L564.18,268.50 L565.50,268.20 L566.82,267.93 L568.14,267.70 L569.45,267.50 L570.77,267.32 L572.09,267.17 L573.41,267.03 L574.72,266.91 L576.04,266.81 L577.36,266.72 L578.68,266.64 L580.00,266.58 L581.31,266.52 L582.63,266.48 L583.95,266.44 L585.27,266.41 L586.59,266.39 L587.90,266.37 L589.22,266.36 L590.54,266.36 L591.86,266.37 L593.18,266.38 L594.49,266.40 L595.81,266.42 L597.13,266.45 L598.45,266.49 L599.76,266.54 L601.08,266.60 L602.40,266.67 L603.72,266.75 L605.04,266.84 L606.35,266.95 L607.67,267.07 L608.99,267.20 L610.31,267.36 L611.63,267.54 L612.94,267.75 L614.26,267.99 L615.58,268.27 L616.90,268.60 L618.22,268.97 L619.53,269.41 L620.85,269.93 L622.17,270.55 L623.49,271.28 L624.80,272.15 L626.12,273.20 L627.44,274.47 L628.76,276.01 L630.08,277.88 L631.39,280.15 L632.71,282.92 L634.03,286.28" stroke="#2ca02c" stroke-width="2.45" fill="none" stroke-linecap="square" stroke-linejoin="round"/>
<path d="M214.38,248.45 L214.38,38.00" stroke="#808080" stroke-width="2.45" stroke-dasharray="7.55 3.88" fill="none"/>
<path d="M214.38,458.90 L214.38,248.45" stroke="#808080" stroke-width="2.45" stroke-dasharray="7.55 3.88" fill="none"/>
<path d="M481.01,248.45 L481.01,38.00" stroke="#808080" stroke-width="2.45" stroke-dasharray="7.55 3.88" fill="none"/>
<path d="M481.01,458.90 L481.01,248.45" stroke="#808080" stroke-width="2.45" stroke-dasharray="7.55 3.88" fill="none"/>
<path d="M524.73,248.45 L524.73,38.00" stroke="#808080" stroke-width="2.45" stroke-dasharray="7.55 3.88" fill="none"/>
<path d="M524.73,458.90 L524.73,248.45" stroke="#808080" stroke-width="2.45" stroke-dasharray="7.55 3.88" fill="none"/>
<rect x="70.05" y="38.0" width="577.00" height="420.90" fill="none" stroke="#000" stroke-width="1.5"/>
<path d="M358.55,38.0 L358.55,458.9 M70.05,248.45 L647.05,248.45" stroke="#000" stroke-width="1.5" fill="none"/>
<text x="56.9" y="238.65" font-size="19.3" text-anchor="end" fill="#000">0.0</text>
<text x="56.9" y="448.70" font-size="19.3" text-anchor="end" fill="#000">0.0</text>
<text x="56.9" y="202.90" font-size="19.3" text-anchor="end" fill="#000">0.2</text>
<text x="56.9" y="413.55" font-size="19.3" text-anchor="end" fill="#000">0.2</text>
<text x="56.9" y="167.40" font-size="19.3" text-anchor="end" fill="#000">0.4</text>
<text x="56.9" y="378.40" font-size="19.3" text-anchor="end" fill="#000">0.4</text>
<text x="56.9" y="132.00" font-size="19.3" text-anchor="end" fill="#000">0.6</text>
<text x="56.9" y="343.25" font-size="19.3" text-anchor="end" fill="#000">0.6</text>
<text x="56.9" y="96.65" font-size="19.3" text-anchor="end" fill="#000">0.8</text>
<text x="56.9" y="308.10" font-size="19.3" text-anchor="end" fill="#000">0.8</text>
<text x="56.9" y="60.75" font-size="19.3" text-anchor="end" fill="#000">.0</text>
<text x="56.9" y="272.95" font-size="19.3" text-anchor="end" fill="#000">.0</text>
<text x="214.98" y="488.45" font-size="19.3" text-anchor="middle" fill="#000">0</text>
<text x="503.47" y="488.45" font-size="19.3" text-anchor="middle" fill="#000">0</text>
<path d="M65.05,230.91 L70.05,230.91 M65.05,441.36 L70.05,441.36 M65.05,195.83 L70.05,195.83 M65.05,406.28 L70.05,406.28 M65.05,160.76 L70.05,160.76 M65.05,371.21 L70.05,371.21 M65.05,125.68 L70.05,125.68 M65.05,336.13 L70.05,336.13 M65.05,90.61 L70.05,90.61 M65.05,301.06 L70.05,301.06 M65.05,55.53 L70.05,55.53 M65.05,265.98 L70.05,265.98 M126.96,458.90 L126.96,463.90 M214.38,458.90 L214.38,463.90 M301.80,458.90 L301.80,463.90 M415.45,458.90 L415.45,463.90 M502.87,458.90 L502.87,463.90 M590.29,458.90 L590.29,463.90" stroke="#000" stroke-width="1.5" fill="none"/>
<path d="M36.70,46.95 L36.70,60.75 L34.90,60.75 L34.90,51.05 L31.50,51.05 L31.50,49.65 C33.15,49.50 34.75,48.65 35.40,46.95 Z M36.70,259.15 L36.70,272.95 L34.90,272.95 L34.90,263.25 L31.50,263.25 L31.50,261.85 C33.15,261.70 34.75,260.85 35.40,259.15 Z M134.98,474.65 L134.98,488.45 L133.18,488.45 L133.18,478.75 L129.78,478.75 L129.78,477.35 C131.43,477.20 133.03,476.35 133.68,474.65 Z M116.86,481.85 L127.96,481.85 L127.96,483.25 L116.86,483.25 Z M303.58,474.65 L303.58,488.45 L301.78,488.45 L301.78,478.75 L298.38,478.75 L298.38,477.35 C300.03,477.20 301.63,476.35 302.28,474.65 Z M423.47,474.65 L423.47,488.45 L421.67,488.45 L421.67,478.75 L418.27,478.75 L418.27,477.35 C419.92,477.20 421.52,476.35 422.17,474.65 Z M405.35,481.85 L416.45,481.85 L416.45,483.25 L405.35,483.25 Z M592.07,474.65 L592.07,488.45 L590.27,488.45 L590.27,478.75 L586.87,478.75 L586.87,477.35 C588.52,477.20 590.12,476.35 590.77,474.65 Z" fill="#000" stroke="none"/>
<text x="165.3" y="517.7" font-size="19.3" fill="#000" textLength="395.6" lengthAdjust="spacingAndGlyphs"><tspan font-style="italic">x</tspan>-position in multiples of the Rayleigh criterion</text>
<text transform="translate(14.9,249.45) rotate(-90)" font-size="19.3" text-anchor="middle" fill="#000" textLength="341.7" lengthAdjust="spacingAndGlyphs">Normalized fluorescence intensity (a.u.)</text>
<text transform="translate(670.7,143.7) rotate(-90)" font-size="19.3" text-anchor="middle" fill="#000">Gaussian beam</text>
<text transform="translate(670.7,354.3) rotate(-90)" font-size="19.3" text-anchor="middle" fill="#000">Doughnut beam</text>
<text x="77.2" y="66.2" font-size="28.0" font-weight="bold" fill="#000">a</text>
<text x="637.9" y="66.5" font-size="28.0" font-weight="bold" text-anchor="end" fill="#000">b</text>
<text x="77.0" y="448.2" font-size="28.0" font-weight="bold" fill="#000">c</text>
<text x="637.9" y="448.2" font-size="28.0" font-weight="bold" text-anchor="end" fill="#000">d</text>
<rect x="83.0" y="0.7" width="550.4" height="30.2" rx="3" ry="3" fill="#fff" stroke="#cdcdcd" stroke-width="1.4"/>
<path d="M88.2,14.6 L119.4,14.6" stroke="#1f77b4" stroke-width="2.45" fill="none"/>
<text x="126.5" y="19.9" font-size="16.2" fill="#000" textLength="49.3" lengthAdjust="spacingAndGlyphs">2-level</text>
<path d="M205.8,14.6 L237.0,14.6" stroke="#ff7f0e" stroke-width="2.45" fill="none"/>
<text x="242.0" y="19.9" font-size="16.2" fill="#000" textLength="168.2" lengthAdjust="spacingAndGlyphs">3-level without repump</text>
<path d="M442.2,14.6 L473.4,14.6" stroke="#2ca02c" stroke-width="2.45" fill="none"/>
<text x="478.4" y="19.9" font-size="16.2" fill="#000" textLength="145.0" lengthAdjust="spacingAndGlyphs">3-level with repump</text>
</svg>
</body></html>
